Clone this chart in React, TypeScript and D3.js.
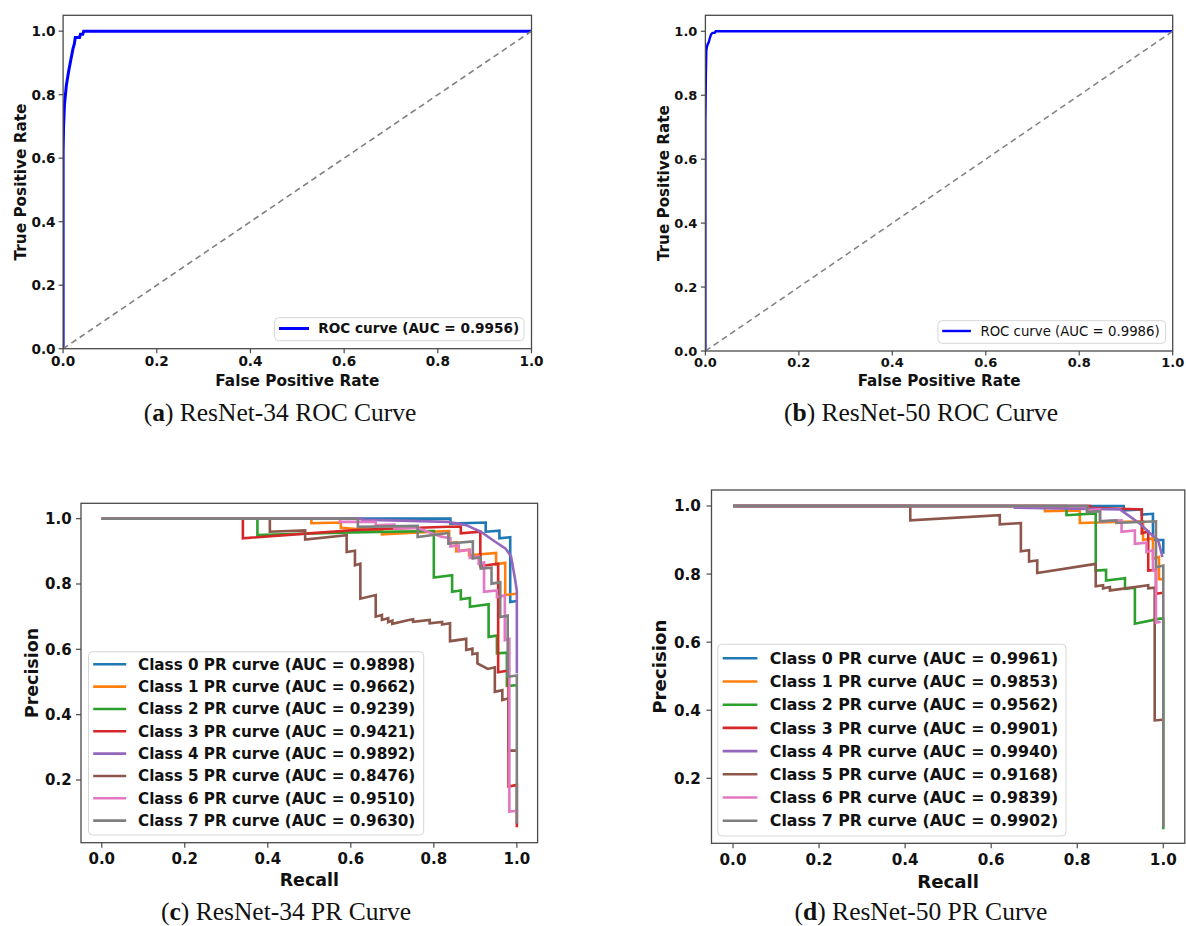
import React from 'react';
import * as d3 from 'd3';

type Pt = [number, number];

const SANS = "'DejaVu Sans', 'Liberation Sans', sans-serif";
const SERIF = "'Liberation Serif', 'Times New Roman', serif";

// ---------- tick values ----------
const rocTicks = [0, 0.2, 0.4, 0.6, 0.8, 1.0];
const prXTicks = [0, 0.2, 0.4, 0.6, 0.8, 1.0];
const prYTicks = [0.2, 0.4, 0.6, 0.8, 1.0];

// ---------- ROC data ----------
const roc34Fpr = [0, 0, 0.001, 0.003, 0.005, 0.007, 0.012, 0.016, 0.021, 0.024, 0.026, 0.035, 0.037, 0.042, 0.044, 1];
const roc34Tpr = [0, 0.62, 0.7, 0.77, 0.8, 0.83, 0.875, 0.906, 0.944, 0.96, 0.98, 0.98, 0.99, 0.99, 1.0, 1.0];
const roc34Auc = '0.9956';

const roc50Fpr = [0, 0, 0.001, 0.002, 0.003, 0.005, 0.007, 0.009, 0.012, 0.015, 0.02, 0.022, 1];
const roc50Tpr = [0, 0.72, 0.86, 0.94, 0.95, 0.96, 0.965, 0.976, 0.99, 0.995, 0.995, 1, 1];
const roc50Auc = '0.9986';

const chanceLine: Pt[] = [[0, 0], [1, 1]];

// ---------- PR classes ----------
const classNames = ['Class 0', 'Class 1', 'Class 2', 'Class 3', 'Class 4', 'Class 5', 'Class 6', 'Class 7'];
const classColors = ['#1f77b4', '#ff7f0e', '#2ca02c', '#d62728', '#9467bd', '#8c564b', '#e377c2', '#7f7f7f'];
const auc34 = ['0.9898', '0.9662', '0.9239', '0.9421', '0.9892', '0.8476', '0.9510', '0.9630'];
const auc50 = ['0.9961', '0.9853', '0.9562', '0.9901', '0.9940', '0.9168', '0.9839', '0.9902'];

// ResNet-34 PR curves: [recall, precision]
const pr34Class0: Pt[] = [[0, 1], [0.84, 1], [0.84, 0.985], [0.925, 0.988], [0.925, 0.96], [0.958, 0.963], [0.958, 0.94], [0.984, 0.943], [0.984, 0.745], [1.0, 0.748]];
const pr34Class1: Pt[] = [[0, 1], [0.505, 1], [0.505, 0.986], [0.576, 0.988], [0.576, 0.972], [0.675, 0.962], [0.675, 0.952], [0.76, 0.958], [0.837, 0.962], [0.837, 0.925], [0.854, 0.928], [0.854, 0.9], [0.885, 0.905], [0.885, 0.888], [0.95, 0.895], [0.95, 0.86], [0.972, 0.865], [0.972, 0.766], [0.998, 0.77]];
const pr34Class2: Pt[] = [[0, 1], [0.375, 1], [0.375, 0.95], [0.6, 0.958], [0.8, 0.962], [0.8, 0.82], [0.844, 0.827], [0.844, 0.776], [0.865, 0.78], [0.865, 0.753], [0.887, 0.757], [0.887, 0.73], [0.932, 0.738], [0.932, 0.638], [0.952, 0.642], [0.952, 0.588], [0.976, 0.59], [0.976, 0.488], [1.0, 0.49]];
const pr34Class3: Pt[] = [[0, 1], [0.34, 1], [0.34, 0.94], [0.5, 0.955], [0.62, 0.966], [0.835, 0.975], [0.865, 0.976], [0.865, 0.955], [0.912, 0.96], [0.912, 0.855], [0.955, 0.862], [0.955, 0.53], [0.98, 0.535], [0.98, 0.18], [1.0, 0.185], [1.0, 0.055]];
const pr34Class4: Pt[] = [[0, 1], [0.627, 1], [0.627, 0.997], [0.835, 0.99], [0.878, 0.98], [0.913, 0.96], [0.947, 0.93], [0.973, 0.908], [0.986, 0.885], [0.995, 0.82], [1.0, 0.78], [1.0, 0.526]];
const pr34Class5: Pt[] = [[0, 1], [0.405, 1], [0.405, 0.96], [0.49, 0.964], [0.49, 0.936], [0.59, 0.949], [0.59, 0.898], [0.61, 0.902], [0.61, 0.857], [0.623, 0.862], [0.623, 0.755], [0.66, 0.766], [0.66, 0.7], [0.675, 0.705], [0.675, 0.69], [0.69, 0.695], [0.69, 0.683], [0.7, 0.688], [0.7, 0.678], [0.74, 0.69], [0.75, 0.692], [0.75, 0.684], [0.79, 0.69], [0.79, 0.68], [0.82, 0.684], [0.82, 0.676], [0.839, 0.68], [0.839, 0.625], [0.878, 0.632], [0.878, 0.598], [0.893, 0.602], [0.893, 0.585], [0.905, 0.588], [0.905, 0.557], [0.93, 0.54], [0.947, 0.545], [0.947, 0.47], [0.965, 0.475], [0.965, 0.445], [0.98, 0.45], [0.98, 0.29], [1.0, 0.29]];
const pr34Class6: Pt[] = [[0, 1], [0.574, 1], [0.574, 0.99], [0.66, 0.99], [0.66, 0.98], [0.705, 0.982], [0.705, 0.97], [0.76, 0.972], [0.818, 0.945], [0.84, 0.94], [0.84, 0.915], [0.86, 0.918], [0.86, 0.9], [0.887, 0.905], [0.887, 0.88], [0.908, 0.885], [0.908, 0.862], [0.921, 0.866], [0.921, 0.776], [0.952, 0.78], [0.952, 0.76], [0.971, 0.765], [0.971, 0.628], [0.982, 0.632], [0.982, 0.103], [0.997, 0.105]];
const pr34Class7: Pt[] = [[0, 1], [0.617, 1], [0.617, 0.975], [0.761, 0.978], [0.761, 0.944], [0.835, 0.956], [0.835, 0.924], [0.894, 0.93], [0.894, 0.878], [0.913, 0.882], [0.913, 0.847], [0.939, 0.85], [0.939, 0.801], [0.96, 0.805], [0.96, 0.699], [0.978, 0.703], [0.978, 0.516], [1.0, 0.52], [1.0, 0.067]];

// ResNet-50 PR curves
const pr50Class0: Pt[] = [[0, 1], [0.908, 1], [0.908, 0.987], [0.95, 0.99], [0.95, 0.975], [0.976, 0.977], [0.976, 0.9], [1.0, 0.9], [1.0, 0.86]];
const pr50Class1: Pt[] = [[0, 1], [0.725, 1], [0.725, 0.985], [0.806, 0.987], [0.806, 0.95], [0.953, 0.955], [0.953, 0.9], [0.976, 0.905], [0.976, 0.845], [0.99, 0.85], [0.99, 0.785], [1.0, 0.785]];
const pr50Class2: Pt[] = [[0, 1], [0.775, 1], [0.775, 0.973], [0.843, 0.978], [0.843, 0.81], [0.867, 0.812], [0.867, 0.781], [0.911, 0.788], [0.911, 0.757], [0.934, 0.76], [0.934, 0.654], [0.992, 0.669], [1.0, 0.669], [1.0, 0.05]];
const pr50Class3: Pt[] = [[0, 1], [0.83, 1], [0.83, 0.995], [0.95, 0.99], [0.95, 0.92], [0.965, 0.925], [0.965, 0.81], [0.983, 0.812], [0.983, 0.742], [1.0, 0.745]];
const pr50Class4: Pt[] = [[0, 1], [0.655, 1], [0.655, 0.995], [0.899, 0.99], [0.946, 0.948], [0.969, 0.92], [0.988, 0.9], [0.998, 0.85]];
const pr50Class5: Pt[] = [[0, 1], [0.412, 1], [0.412, 0.958], [0.62, 0.973], [0.62, 0.946], [0.669, 0.95], [0.669, 0.867], [0.688, 0.87], [0.688, 0.837], [0.707, 0.84], [0.707, 0.803], [0.843, 0.83], [0.843, 0.764], [0.86, 0.767], [0.86, 0.758], [0.876, 0.762], [0.876, 0.752], [0.895, 0.755], [0.965, 0.767], [0.965, 0.758], [0.98, 0.76], [0.98, 0.37], [0.998, 0.372]];
const pr50Class6: Pt[] = [[0, 1], [0.822, 1], [0.822, 0.987], [0.853, 0.99], [0.853, 0.955], [0.903, 0.958], [0.903, 0.924], [0.934, 0.928], [0.934, 0.889], [0.961, 0.892], [0.961, 0.865], [0.976, 0.87], [0.976, 0.811], [0.983, 0.81], [0.983, 0.657], [0.994, 0.66]];
const pr50Class7: Pt[] = [[0, 1], [0.823, 1], [0.823, 0.982], [0.853, 0.985], [0.853, 0.955], [0.891, 0.958], [0.891, 0.95], [0.983, 0.955], [0.983, 0.82], [1.0, 0.825], [1.0, 0.056]];

const pr34Curves = [pr34Class0, pr34Class1, pr34Class2, pr34Class3, pr34Class4, pr34Class5, pr34Class6, pr34Class7];
const pr50Curves = [pr50Class0, pr50Class1, pr50Class2, pr50Class3, pr50Class4, pr50Class5, pr50Class6, pr50Class7];

// ---------- types ----------
interface Series { points: Pt[]; color: string; width: number; dash?: string; }
interface LegendEntry { color: string; width: number; label: string; }
interface LegendCfg {
  x0: number; x1: number; y0: number; y1: number;
  firstRow: number; rowGap: number;
  lineX0: number; lineX1: number; textX: number;
  font: number; weight: string; entries: LegendEntry[];
}
interface PanelCfg {
  id: string;
  x0: number; x1: number; y0: number; y1: number;
  xDomain: [number, number]; yDomain: [number, number];
  xTicks: number[]; yTicks: number[];
  tickFont: number; tickLen: number;
  xTickBaseOff: number; yTickGap: number;
  xLabel: string; yLabel: string; labelFont: number;
  xLabelBase: number; yLabelBaseX: number;
  series: Series[];
  legend: LegendCfg;
  captionLetter: string; captionText: string; captionX: number; captionY: number; captionFont: number;
}

const fmt = d3.format('.1f');
const SPINE = '#4a4a4a';

function Panel({ cfg }: { cfg: PanelCfg }) {
  const xs = d3.scaleLinear().domain(cfg.xDomain).range([cfg.x0, cfg.x1]);
  const ys = d3.scaleLinear().domain(cfg.yDomain).range([cfg.y1, cfg.y0]);
  const line = d3.line<Pt>().x(d => xs(d[0])).y(d => ys(d[1]));
  const lg = cfg.legend;
  const cx = (cfg.x0 + cfg.x1) / 2;
  const cy = (cfg.y0 + cfg.y1) / 2;
  return (
    <g>
      <defs>
        <clipPath id={cfg.id}>
          <rect x={cfg.x0} y={cfg.y0} width={cfg.x1 - cfg.x0} height={cfg.y1 - cfg.y0} />
        </clipPath>
      </defs>
      <g clipPath={`url(#${cfg.id})`}>
        {cfg.series.map((s, i) => (
          <path key={i} d={line(s.points) || ''} fill="none" stroke={s.color} strokeWidth={s.width}
            strokeDasharray={s.dash} strokeLinejoin="miter" strokeLinecap="butt" />
        ))}
      </g>
      <rect x={cfg.x0} y={cfg.y0} width={cfg.x1 - cfg.x0} height={cfg.y1 - cfg.y0} fill="none" stroke={SPINE} strokeWidth={1.3} />
      {cfg.xTicks.map(t => (
        <g key={'x' + t}>
          <line x1={xs(t)} x2={xs(t)} y1={cfg.y1} y2={cfg.y1 + cfg.tickLen} stroke={SPINE} strokeWidth={1.2} />
          <text x={xs(t)} y={cfg.y1 + cfg.xTickBaseOff} textAnchor="middle" fontFamily={SANS} fontWeight="bold" fontSize={cfg.tickFont} fill="#111">{fmt(t)}</text>
        </g>
      ))}
      {cfg.yTicks.map(t => (
        <g key={'y' + t}>
          <line x1={cfg.x0 - cfg.tickLen} x2={cfg.x0} y1={ys(t)} y2={ys(t)} stroke={SPINE} strokeWidth={1.2} />
          <text x={cfg.x0 - cfg.yTickGap} y={ys(t) + cfg.tickFont * 0.36} textAnchor="end" fontFamily={SANS} fontWeight="bold" fontSize={cfg.tickFont} fill="#111">{fmt(t)}</text>
        </g>
      ))}
      <text x={cx} y={cfg.xLabelBase} textAnchor="middle" fontFamily={SANS} fontWeight="bold" fontSize={cfg.labelFont} fill="#111">{cfg.xLabel}</text>
      <text transform={`translate(${cfg.yLabelBaseX},${cy}) rotate(-90)`} textAnchor="middle" fontFamily={SANS} fontWeight="bold" fontSize={cfg.labelFont} fill="#111">{cfg.yLabel}</text>
      <rect x={lg.x0} y={lg.y0} width={lg.x1 - lg.x0} height={lg.y1 - lg.y0} rx={4} ry={4} fill="#ffffff" fillOpacity={0.8} stroke="#d6d6d6" strokeWidth={1} />
      {lg.entries.map((e, i) => {
        const ry = lg.firstRow + i * lg.rowGap;
        return (
          <g key={'l' + i}>
            <line x1={lg.lineX0} x2={lg.lineX1} y1={ry} y2={ry} stroke={e.color} strokeWidth={e.width} />
            <text x={lg.textX} y={ry + lg.font * 0.36} fontFamily={SANS} fontWeight={lg.weight} fontSize={lg.font} fill="#111">{e.label}</text>
          </g>
        );
      })}
      <text x={cfg.captionX} y={cfg.captionY} textAnchor="middle" fontFamily={SERIF} fontSize={cfg.captionFont} fill="#111">
        <tspan>(</tspan><tspan fontWeight="bold">{cfg.captionLetter}</tspan><tspan>{') ' + cfg.captionText}</tspan>
      </text>
    </g>
  );
}

const zip = (a: number[], b: number[]): Pt[] => a.map((v, i) => [v, b[i]] as Pt);

const panelA: PanelCfg = {
  id: 'clipA', x0: 63.1, x1: 531.5, y0: 15.3, y1: 348.7,
  xDomain: [0, 1], yDomain: [0, 1.05], xTicks: rocTicks, yTicks: rocTicks,
  tickFont: 13.6, tickLen: 4.5, xTickBaseOff: 17, yTickGap: 7.5,
  xLabel: 'False Positive Rate', yLabel: 'True Positive Rate', labelFont: 15.3,
  xLabelBase: 386, yLabelBaseX: 26,
  series: [
    { points: zip(roc34Fpr, roc34Tpr), color: '#0000ff', width: 3 },
    { points: chanceLine, color: '#808080', width: 1.6, dash: '6,4' },
  ],
  legend: {
    x0: 274.6, x1: 524, y0: 317.7, y1: 340.7, firstRow: 328.5, rowGap: 0,
    lineX0: 279, lineX1: 309, textX: 318.3, font: 13.6, weight: 'bold',
    entries: [{ color: '#0000ff', width: 3, label: `ROC curve (AUC = ${roc34Auc})` }],
  },
  captionLetter: 'a', captionText: 'ResNet-34 ROC Curve', captionX: 280, captionY: 421, captionFont: 25.5,
};

const panelB: PanelCfg = {
  id: 'clipB', x0: 705.4, x1: 1172.7, y0: 15.3, y1: 351,
  xDomain: [0, 1], yDomain: [0, 1.05], xTicks: rocTicks, yTicks: rocTicks,
  tickFont: 13, tickLen: 4.5, xTickBaseOff: 16.4, yTickGap: 8,
  xLabel: 'False Positive Rate', yLabel: 'True Positive Rate', labelFont: 15.2,
  xLabelBase: 386, yLabelBaseX: 668.9,
  series: [
    { points: zip(roc50Fpr, roc50Tpr), color: '#0000ff', width: 2.4 },
    { points: chanceLine, color: '#808080', width: 1.5, dash: '6,4' },
  ],
  legend: {
    x0: 938, x1: 1165.6, y0: 320.7, y1: 343.3, firstRow: 331, rowGap: 0,
    lineX0: 942.2, lineX1: 970.9, textX: 980.4, font: 13.3, weight: 'normal',
    entries: [{ color: '#0000ff', width: 2.4, label: `ROC curve (AUC = ${roc50Auc})` }],
  },
  captionLetter: 'b', captionText: 'ResNet-50 ROC Curve', captionX: 921, captionY: 421, captionFont: 25.5,
};

const panelC: PanelCfg = {
  id: 'clipC', x0: 81, x1: 537.6, y0: 503.3, y1: 842.7,
  xDomain: [-0.05, 1.05], yDomain: [0.008, 1.047], xTicks: prXTicks, yTicks: prYTicks,
  tickFont: 15, tickLen: 5, xTickBaseOff: 21, yTickGap: 9.3,
  xLabel: 'Recall', yLabel: 'Precision', labelFont: 17.4,
  xLabelBase: 886, yLabelBaseX: 37.6,
  series: pr34Curves.map((p, i) => ({ points: p, color: classColors[i], width: 2.6 })),
  legend: {
    x0: 88.5, x1: 423.7, y0: 651.7, y1: 835, firstRow: 664.3, rowGap: 22.33,
    lineX0: 93.2, lineX1: 126.2, textX: 138, font: 15.2, weight: 'bold',
    entries: classNames.map((n, i) => ({ color: classColors[i], width: 2.6, label: `${n} PR curve (AUC = ${auc34[i]})` })),
  },
  captionLetter: 'c', captionText: 'ResNet-34 PR Curve', captionX: 286, captionY: 920, captionFont: 25.5,
};

const panelD: PanelCfg = {
  id: 'clipD', x0: 711.5, x1: 1184.8, y0: 490, y1: 843.3,
  xDomain: [-0.05, 1.05], yDomain: [0.009, 1.047], xTicks: prXTicks, yTicks: prYTicks,
  tickFont: 15.2, tickLen: 5, xTickBaseOff: 22, yTickGap: 10.7,
  xLabel: 'Recall', yLabel: 'Precision', labelFont: 18.2,
  xLabelBase: 888.3, yLabelBaseX: 666,
  series: pr50Curves.map((p, i) => ({ points: p, color: classColors[i], width: 2.6 })),
  legend: {
    x0: 717.8, x1: 1066, y0: 644.3, y1: 836, firstRow: 658.3, rowGap: 23.2,
    lineX0: 722.7, lineX1: 757.4, textX: 769.8, font: 15.8, weight: 'bold',
    entries: classNames.map((n, i) => ({ color: classColors[i], width: 2.6, label: `${n} PR curve (AUC = ${auc50[i]})` })),
  },
  captionLetter: 'd', captionText: 'ResNet-50 PR Curve', captionX: 921, captionY: 920, captionFont: 25.5,
};

export default function App() {
  return (
    <svg width={1186} height={926} viewBox="0 0 1186 926"
      style={{ position: 'absolute', left: 0, top: 0, background: '#ffffff', display: 'block' }}>
      <rect x={0} y={0} width={1186} height={926} fill="#ffffff" />
      <Panel cfg={panelA} />
      <Panel cfg={panelB} />
      <Panel cfg={panelC} />
      <Panel cfg={panelD} />
    </svg>
  );
}
